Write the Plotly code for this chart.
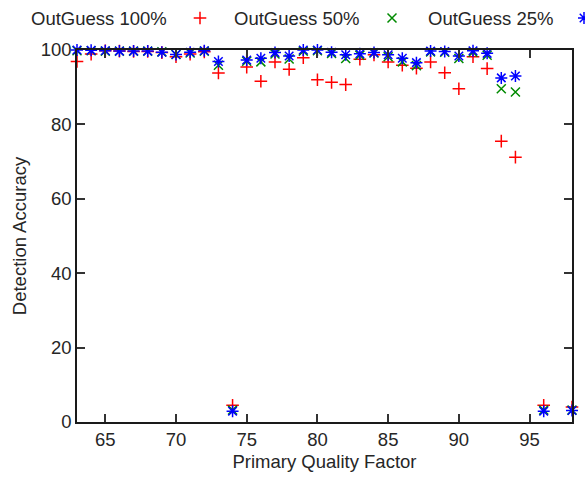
import plotly.graph_objects as go

quality = list(range(63, 95)) + [96, 98]
outguess_100 = [96.9, 98.9, 99.8, 99.7, 99.6, 99.6, 99.3, 98.2, 98.9, 99.5, 93.8, 4.5, 95.4, 91.6,
                96.8, 94.8, 97.9, 92.0, 91.3, 90.7, 97.5, 98.7, 96.8, 95.9, 95.1, 96.8, 93.9, 89.6,
                98.2, 95.0, 75.5, 71.2, 4.5, 4.0]
outguess_50 = [99.8, 99.8, 99.7, 99.7, 99.7, 99.7, 99.5, 98.8, 99.2, 99.7, 95.9, 3.2, 97.0, 96.8,
               98.9, 97.6, 99.7, 99.8, 99.1, 97.7, 98.6, 99.2, 98.2, 96.8, 95.8, 99.5, 99.4, 97.7,
               99.4, 98.6, 89.6, 88.7, 3.2, 3.2]
outguess_25 = [100, 99.9, 99.8, 99.7, 99.7, 99.7, 99.4, 98.8, 99.4, 99.8, 96.9, 2.9, 97.3, 97.8,
               99.3, 98.4, 100, 100, 99.4, 98.7, 99.0, 99.3, 98.7, 97.8, 96.6, 99.7, 99.6, 98.4,
               99.8, 99.1, 92.5, 93.0, 2.9, 3.1]
series_names = ["OutGuess 100%", "OutGuess 50%", "OutGuess 25%"]
x_ticks = [65, 70, 75, 80, 85, 90, 95]
y_ticks = [0, 20, 40, 60, 80, 100]

colors = ["#ff0000", "#008a00", "#0000ff"]
symbols = ["cross-thin", "x-thin", "asterisk"]
sizes = [9, 9, 10]
W, H = 585, 481
L, R, T, B = 77, 572, 50, 422
FONT = "Liberation Sans, Arial, sans-serif"
TXT = "#262626"
FS = 18.5

fig = go.Figure()
for name, vals, c, s, sz in zip(series_names, [outguess_100, outguess_50, outguess_25], colors, symbols, sizes):
    fig.add_trace(go.Scatter(
        x=quality, y=vals, mode="markers", name=name, cliponaxis=False, showlegend=False,
        marker=dict(symbol=s, size=sz, color=c, line=dict(color=c, width=1.5)),
    ))

# key (gnuplot-style: label followed by sample) on an overlay pixel axis
key_text_right = [169, 361, 555]
key_sample_x = [200, 392, 584]
key_y = 18
for name, c, s, sz, tx, sx in zip(series_names, colors, symbols, sizes, key_text_right, key_sample_x):
    fig.add_trace(go.Scatter(
        x=[sx], y=[key_y], xaxis="x2", yaxis="y2", mode="markers", showlegend=False,
        cliponaxis=False, hoverinfo="skip",
        marker=dict(symbol=s, size=sz, color=c, line=dict(color=c, width=1.5)),
    ))
    fig.add_annotation(x=tx, y=key_y, xref="x2", yref="y2", text=name, showarrow=False,
                       xanchor="right", yanchor="middle", font=dict(size=FS, color=TXT, family=FONT))

axis_common = dict(showgrid=False, zeroline=False, showline=True, linecolor="#1a1a1a", linewidth=1.5,
                   mirror="ticks", ticks="inside", ticklen=8, tickwidth=1.5, tickcolor="#333333",
                   tickfont=dict(size=FS, color=TXT, family=FONT))
fig.update_layout(
    width=W, height=H,
    margin=dict(l=0, r=0, t=0, b=0, autoexpand=False),
    paper_bgcolor="white", plot_bgcolor="rgba(0,0,0,0)",
    xaxis=dict(range=[63, 98], tickvals=x_ticks, domain=[L / W, R / W], anchor="y",
               title=dict(text="Primary Quality Factor", standoff=6,
                          font=dict(size=FS, color=TXT, family=FONT)),
               automargin=False, **axis_common),
    yaxis=dict(range=[0, 100], tickvals=y_ticks, domain=[(H - B) / H, (H - T) / H], anchor="x",
               title=dict(text="Detection Accuracy", standoff=9,
                          font=dict(size=FS, color=TXT, family=FONT)),
               automargin=False, **axis_common),
    xaxis2=dict(range=[0, W], domain=[0, 1], anchor="y2", visible=False, fixedrange=True),
    yaxis2=dict(range=[H, 0], domain=[0, 1], anchor="x2", visible=False, fixedrange=True),
)
fig.write_html("out.html", config={"displayModeBar": False},
               post_script="document.body.style.margin='0';document.body.style.overflow='hidden';")
